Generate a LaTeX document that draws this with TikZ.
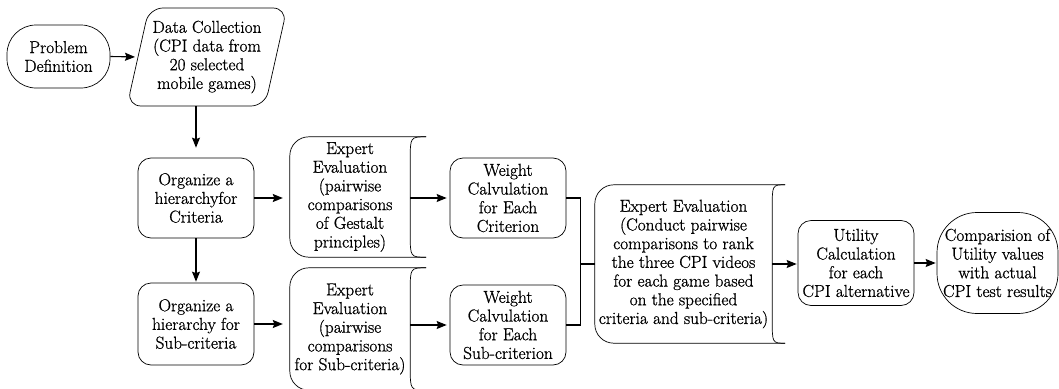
\documentclass[tikz,border=0pt]{standalone}
\usepackage{fontspec}
\setmainfont{Latin Modern Roman}[RawFeature={embolden=0.9}]
\usetikzlibrary{arrows.meta,calc}
\begin{document}
\begin{tikzpicture}[x=1pt,y=-1pt,
  every node/.style={font=\fontsize{17.3}{18.7}\selectfont, align=center, inner sep=0pt},
  rbox/.style={draw, line width=0.7pt, rounded corners=13pt, minimum width=116pt, minimum height=80pt},
  ghost/.style={draw=none},
  outline/.style={line width=0.7pt},
  arr/.style={line width=1.1pt, -{Stealth[length=10pt,width=8pt,inset=1.5pt]}},
  link/.style={line width=1.1pt}]
\useasboundingbox (0,0) rectangle (1059,388);

% Problem definition
\node[draw, line width=0.7pt, rounded corners=29pt, minimum width=103pt, minimum height=63pt] (pd) at (58.5,56.5) {Problem\\Definition};

% Data collection (rounded parallelogram)
\node[ghost, minimum width=116pt, minimum height=98pt] (dc) at (207,57) {Data Collection\\(CPI data from\\20 selected\\mobile games)};
\draw[outline, rounded corners=14pt] ($(dc)+(-58,-49)$) -- ($(dc)+(80,-49)$) -- ($(dc)+(58,49)$) -- ($(dc)+(-80,49)$) -- cycle;
\coordinate (dcw) at ($(dc)+(-69,0)$);

% Organize boxes
\node[rbox] (org1) at (196,198) {Organize a\\hierarchyfor\\Criteria};
\node[rbox, minimum height=82pt] (org2) at (196,324) {Organize a\\hierarchy for\\Sub-criteria};

% Expert evaluation (stored-data shapes)
\node[ghost, minimum width=120pt, minimum height=120pt] (ee1) at (350,197) {Expert\\Evaluation\\(pairwise\\comparisons\\of Gestalt\\principles)};
\node[ghost, minimum width=120pt, minimum height=122pt] (ee2) at (350,329) {Expert\\Evaluation\\(pairwise\\comparisons\\for Sub-criteria)};
\node[ghost, minimum width=177pt, minimum height=158pt] (ee3) at (683.5,264) {Expert Evaluation\\(Conduct pairwise\\comparisons to rank\\the three CPI videos\\for each game based\\on the specified\\criteria and sub-criteria)};

\foreach \n/\t in {ee1/16, ee2/16, ee3/13}{
  \draw[outline, rounded corners=19pt] ($(\n.north east)+(\t,0)$) -- (\n.north west) -- (\n.south west) -- ($(\n.south east)+(\t,0)$);
  \draw[outline] ($(\n.south east)+(\t,0)$) .. controls (\n.south east) .. ($(\n.south east)+(0,-24)$)
     -- ($(\n.north east)+(0,24)$) .. controls (\n.north east) .. ($(\n.north east)+(\t,0)$);
}

% Weight calculation
\node[rbox] (w1) at (508,198) {Weight\\Calvulation\\for Each\\Criterion};
\node[rbox] (w2) at (508,325) {Weight\\Calvulation\\for Each\\Sub-criterion};

% Utility and comparison
\node[rbox, minimum height=85pt] (ut) at (856,263) {Utility\\Calculation\\for each\\CPI alternative};
\node[draw, line width=0.7pt, rounded corners=40pt, minimum width=121pt, minimum height=101pt] (cmp) at (997.5,263) {Comparision of\\Utility values\\with actual\\CPI test results};

% connectors
\draw[arr, shorten >=3pt] (pd.east) -- (dcw);
\draw[arr, shorten >=10pt] (dc.south -| org1.north) -- (org1.north);
\draw[arr, shorten >=1pt] (org1.south) -- (org2.north);
\draw[arr, shorten >=7pt] (org1.east) -- (org1.east -| ee1.west);
\draw[arr, shorten >=7pt] (org2.east) -- (org2.east -| ee2.west);
\draw[arr, shorten >=3pt] (ee1.east |- w1.west) -- (w1.west);
\draw[arr, shorten >=3pt] (ee2.east |- w2.west) -- (w2.west);
\draw[link] (w1.east) -- ++(14,0) |- (ee3.west);
\draw[link] (w2.east) -- ++(14,0) |- (ee3.west);
\draw[arr, shorten >=1pt] (ee3.east) -- (ee3.east -| ut.west);
\draw[arr, shorten >=1pt] (ut.east) -- (cmp.west);
\end{tikzpicture}
\end{document}
